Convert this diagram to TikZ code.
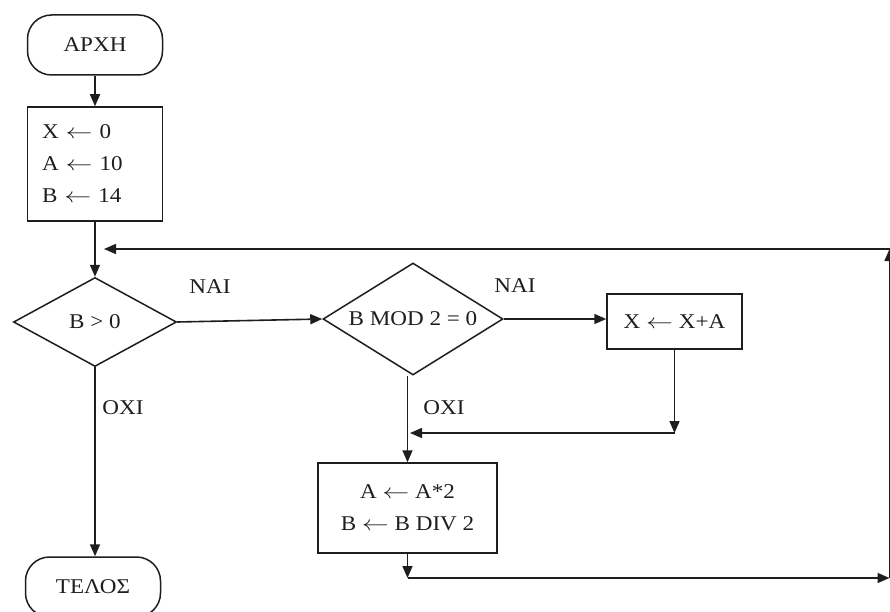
\documentclass[tikz,border=0pt]{standalone}
\usepackage{fontspec}
\setmainfont{Liberation Serif}[FakeStretch=1.1]
\usetikzlibrary{shapes.geometric,arrows.meta}
\definecolor{ink}{RGB}{30,30,30}
\newcommand{\la}{\scalebox{1.3}[1]{$\leftarrow$}}
\begin{document}
\begin{tikzpicture}[x=1pt,y=-1pt,
  every node/.style={text=ink,font=\fontsize{21}{32}\selectfont},
  term/.style={draw=ink,line width=1.5pt,rectangle,rounded corners=24pt,minimum width=135pt,minimum height=60pt,inner sep=0pt},
  proc/.style={draw=ink,line width=1.5pt,rectangle,inner sep=0pt},
  dec/.style={draw=ink,line width=1.5pt,diamond,inner sep=0pt},
  lbl/.style={inner sep=0pt},
  arr/.style={draw=ink,line width=1.6pt,-{Triangle[length=12pt,width=10pt]}}]
\useasboundingbox (0,0) rectangle (890,612);
\fill[white] (0,0) rectangle (890,612);

\node[term] (start) at (95,45) {ΑΡΧΗ};
\node[proc,minimum width=135pt,minimum height=114pt,text width=106pt,align=left] (init) at (95,164) {X \la{} 0\\A \la{} 10\\B \la{} 14};
\node[dec,minimum width=163pt,minimum height=89pt,shape aspect=1.83] (d1) at (95,322) {B > 0};
\node[dec,minimum width=180pt,minimum height=112pt,shape aspect=1.6] (d2) at (413,319) {B MOD 2 = 0};
\node[proc,minimum width=135pt,minimum height=55pt] (add) at (674.5,321.5) {X \la{} X+A};
\node[proc,minimum width=179pt,minimum height=90pt,align=center] (upd) at (407.5,508) {A \la{} A*2\\B \la{} B DIV 2};
\node[term] (end) at (93,587) {ΤΕΛΟΣ};

\node[lbl] (yes1) at (210,287) {ΝΑΙ};
\node[lbl] (yes2) at (515,286) {ΝΑΙ};
\node[lbl] (no1) at (123,408) {ΟΧΙ};
\node[lbl] (no2) at (444,408) {ΟΧΙ};

\coordinate (j1) at (104,249);
\coordinate (r2) at (889.5,249);
\coordinate (r1) at (889.5,578);
\coordinate (j3) at (407.5,578);
\coordinate (ja) at (674.5,433);
\coordinate (j2) at (410,433);

\draw[arr] (start) -- (init);
\draw[arr] (init) -- (d1);
\draw[arr] (d1.south) -- (d1.south |- end.north);
\draw[arr] (d1.east) -- (d2.west);
\draw[arr] (d2.east) -- (d2.east -| add.west);
\draw[arr] (add.south) -- (ja);
\draw[arr] (ja) -- (j2);
\draw[arr] (d2.south -| upd.north) -- (upd.north);
\draw[arr] (upd.south) -- (j3);
\draw[arr] (j3) -- (r1);
\draw[arr] (r1) -- (r2);
\draw[arr] (r2) -- (j1);
\end{tikzpicture}
\end{document}
